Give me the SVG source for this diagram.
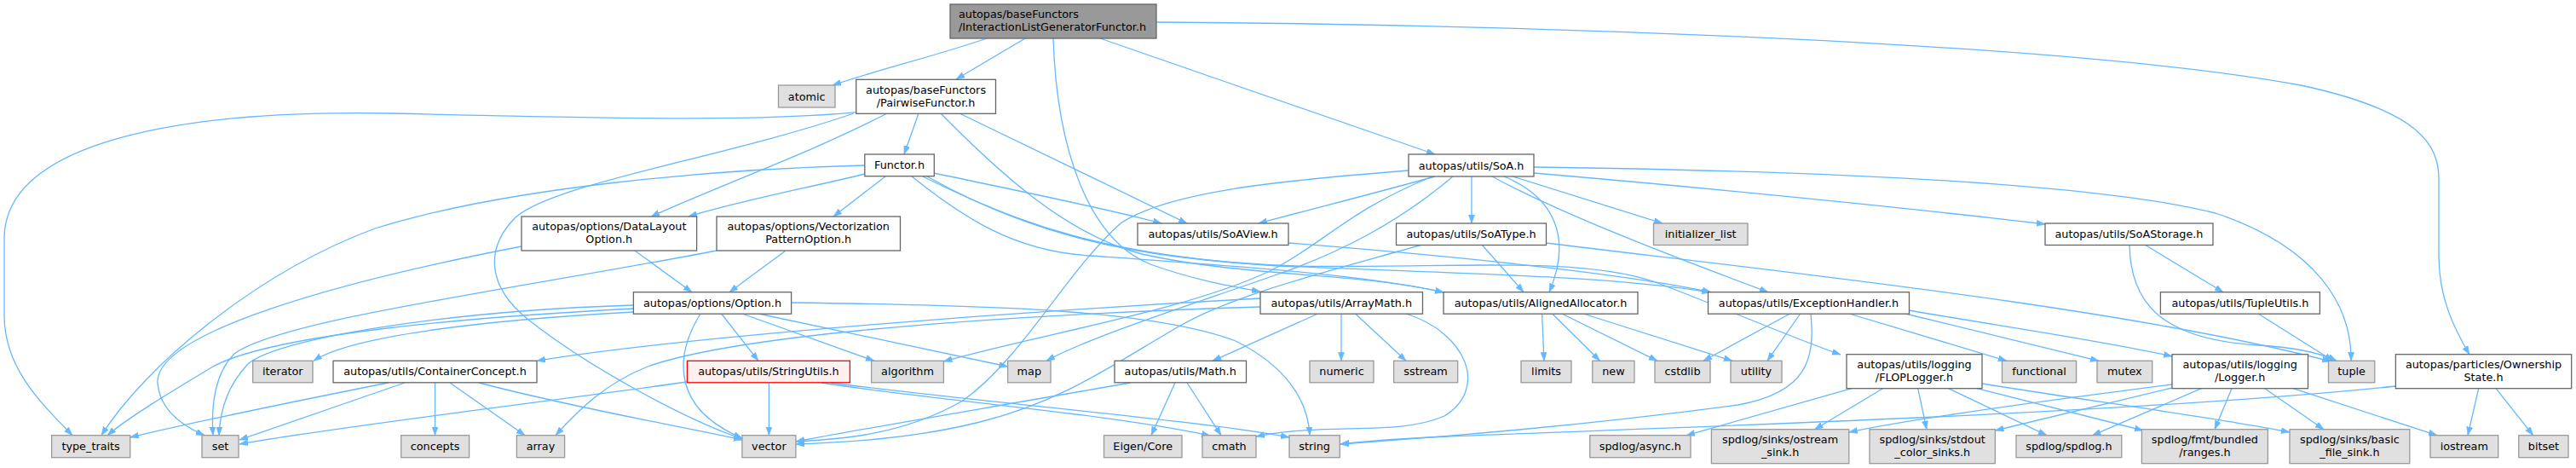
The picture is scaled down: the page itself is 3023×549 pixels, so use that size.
<svg xmlns="http://www.w3.org/2000/svg" width="3023" height="549" viewBox="0 0 3023 549">
<style>
rect{stroke-width:1.3}
.w{fill:#ffffff;stroke:#666666}
.g{fill:#e0e0e0;stroke:#999999}
.r{fill:#999999;stroke:#666666}
.t{fill:#fff0f0;stroke:#ff0000}
text{font-family:"DejaVu Sans","Liberation Sans",sans-serif;font-size:12.8px;fill:#000000;text-anchor:middle}
text.l{text-anchor:start}
#edges path{fill:none;stroke:#63b8ff;stroke-width:1.3;marker-end:url(#ah)}
</style>
<defs>
<marker id="ah" markerUnits="userSpaceOnUse" markerWidth="11" markerHeight="8" refX="10" refY="3.6" orient="auto">
<path d="M0,0 L10,3.6 L0,7.2 z" fill="#63b8ff" stroke="#63b8ff" stroke-width="0.5"/>
</marker>
</defs>
<rect x="0" y="0" width="3023" height="549" fill="#ffffff"/>
<g id="edges">
<path d="M1158,45 C1100,65 1030,82 977,100"/>
<path d="M1203,45 L1122,93"/>
<path d="M1236,45 C1240,170 1275,280 1350,310 C1400,328 1440,335 1479,342"/>
<path d="M1291,45 L1684,181"/>
<path d="M1357,26 C1700,28 2400,45 2700,100 C2840,130 2862,170 2862,210 L2862,300 C2862,350 2880,385 2898,416"/>
<path d="M1004.7,131.7 C900,142 750,140 460,133 C200,128 5,170 5,280 L5,370 C5,430 45,470 85,510.7"/>
<path d="M1002,133 C850,185 650,215 605,255 C570,290 570,335 620,375 C690,430 800,490 871,515"/>
<path d="M1041,133 C950,180 850,215 764,254"/>
<path d="M1078,133 L1061,181"/>
<path d="M1104,133 C1170,200 1250,275 1340,298 C1460,325 1600,320 1694,343"/>
<path d="M1126,133 L1393,262"/>
<path d="M1015,194 C850,198 600,218 440,268 C300,320 170,430 119,510.7"/>
<path d="M1015,204 C950,220 870,235 808,254"/>
<path d="M1039,207 L978,254"/>
<path d="M1096,203 C1200,225 1300,245 1363,262"/>
<path d="M1070,207 C1130,255 1190,295 1280,300 C1450,312 1600,322 1694,343"/>
<path d="M1083,207 C1200,265 1300,300 1500,312 C1750,322 1900,325 2007,343"/>
<path d="M1088,207 C1200,270 1320,305 1520,312 C1700,315 1850,300 1940,330 C2020,360 2100,395 2160,416"/>
<path d="M745,294 L812,342.7"/>
<path d="M612,289 C400,330 180,390 185,450 C188,482 215,500 240,510.7"/>
<path d="M922,294 L856,342.7"/>
<path d="M841,294 C600,340 330,375 275,415 C250,440 248,480 250,510.7"/>
<path d="M846.6,368 L890,423.3"/>
<path d="M822,368 C790,420 790,480 871,514"/>
<path d="M871,368 L1026,423.3"/>
<path d="M890,368 L1182.6,430"/>
<path d="M928.6,355 C1150,358 1350,362 1450,400 C1510,430 1535,470 1537,510.7"/>
<path d="M743.4,362 C550,372 320,392 250,430 C200,460 150,490 126,510.7"/>
<path d="M743.4,358 C520,365 320,398 290,428 C265,455 258,485 257,510.7"/>
<path d="M743.4,366 C560,376 410,395 368,423.3"/>
<path d="M455.6,449 C350,470 250,490 152.7,513"/>
<path d="M475,449 L281,516"/>
<path d="M510.5,449 L510.5,510.7"/>
<path d="M528,449 L616,510.7"/>
<path d="M562,449 C680,480 800,500 871,516"/>
<path d="M806.4,448 C650,470 400,500 281,521"/>
<path d="M902.4,449 L902.4,510.7"/>
<path d="M964,449 C1100,470 1300,485 1420,511"/>
<path d="M975,449 C1150,472 1400,492 1513,513"/>
<path d="M1684,207 C1620,225 1540,245 1477,262"/>
<path d="M1653,200 C1500,212 1370,225 1315,262 C1250,320 1200,420 1130,470 C1060,510 990,515 934,518"/>
<path d="M1681,207 C1580,248 1555,285 1490,318 C1390,365 1220,392 1107.4,424"/>
<path d="M1705,207 C1640,262 1570,298 1490,325 C1390,360 1280,395 1228,423.3"/>
<path d="M1727,207 L1727,262"/>
<path d="M1751,207 C1830,250 1960,300 2075,342.7"/>
<path d="M1765,207 C1825,232 1845,280 1818,342.7"/>
<path d="M1775,207 L1951,262"/>
<path d="M1800,196 C2100,200 2450,212 2600,250 C2720,290 2760,360 2759,423.3"/>
<path d="M1800,203 C2000,220 2250,245 2400,263"/>
<path d="M1739,287 L1788,342.7"/>
<path d="M1669,287 C1560,318 1450,345 1385,382 C1310,425 1250,470 1150,495 C1070,515 990,519 934,521"/>
<path d="M1814,285 C2100,320 2500,362 2735,424"/>
<path d="M1512,285 C1700,300 1900,320 2008,342.7"/>
<path d="M2517,287 L2609,342.7"/>
<path d="M2499,287 C2500,350 2530,398 2650,405 C2700,408 2725,415 2742,423.3"/>
<path d="M2650,368 L2738,423.3"/>
<path d="M1574,368 L1574,423.3"/>
<path d="M1590.5,368 L1650,423.3"/>
<path d="M1546.7,368 L1423,423.3"/>
<path d="M1650,368 C1720,390 1748,455 1695,488 C1640,512 1560,495 1474,512"/>
<path d="M1479,350 C1200,365 800,395 630,423.3"/>
<path d="M1479,360 C1100,372 850,398 760,430 C710,450 680,480 652,510.7"/>
<path d="M1809.6,368 L1812,423.3"/>
<path d="M1821.7,368 L1877.5,423.3"/>
<path d="M1833,368 L1945,423.3"/>
<path d="M1858,368 L2033,423.3"/>
<path d="M2100.5,368 L1999,423.3"/>
<path d="M2112.6,368 L2074,423.3"/>
<path d="M2125,368 C2130,420 2122,460 2040,475 C1850,500 1700,512 1573,521"/>
<path d="M2170,368 L2355,423.3"/>
<path d="M2236,368 L2463,423.3"/>
<path d="M2240,364 C2350,383 2470,400 2549,418"/>
<path d="M1379,449 L1351,510.7"/>
<path d="M1393,449 L1433,510.7"/>
<path d="M1326.5,449 C1150,480 1000,505 934,518"/>
<path d="M2173,455.7 L1979,510.7"/>
<path d="M2209.5,455.7 L2129.5,503.7"/>
<path d="M2250.7,455.7 L2261,503.7"/>
<path d="M2286.6,455.7 L2402,510.7"/>
<path d="M2320,455.7 L2515,505"/>
<path d="M2326,450 C2450,470 2600,490 2687,507"/>
<path d="M2549,451 C2400,470 2250,490 2169.8,507"/>
<path d="M2549,455 L2341.4,505"/>
<path d="M2583.5,455.7 L2455.5,510.7"/>
<path d="M2619,455.7 L2599,503.7"/>
<path d="M2657.8,455.7 L2727,503.7"/>
<path d="M2691,455.7 L2860,510.7"/>
<path d="M2908.7,455.7 L2896,510.7"/>
<path d="M2929,455.7 L2972.7,510.7"/>
<path d="M2811.4,453 C2500,485 2000,500 1700,512 C1630,515 1600,518 1573,521"/>
</g>
<g id="n_root"><rect class="r" x="1115" y="5" width="242" height="40"/><text class="l" x="1125" y="21.2">autopas/baseFunctors</text><text class="l" x="1125" y="36.2">/InteractionListGeneratorFunctor.h</text></g>
<g id="n_atomic"><rect class="g" x="913.5" y="100" width="66.5" height="26"/><text x="946.7" y="117.5">atomic</text></g>
<g id="n_pairwise"><rect class="w" x="1004.7" y="93.3" width="163.8" height="40"/><text x="1086.6" y="109.5">autopas/baseFunctors</text><text x="1086.6" y="124.5">/PairwiseFunctor.h</text></g>
<g id="n_functor"><rect class="w" x="1014.8" y="181" width="81.5" height="25.7"/><text x="1055.5" y="198.3">Functor.h</text></g>
<g id="n_soa"><rect class="w" x="1653" y="181" width="147" height="26"/><text x="1726.5" y="198.5">autopas/utils/SoA.h</text></g>
<g id="n_datalayout"><rect class="w" x="612" y="254" width="205.6" height="40"/><text x="714.8" y="270.2">autopas/options/DataLayout</text><text x="714.8" y="285.2">Option.h</text></g>
<g id="n_vecpattern"><rect class="w" x="841" y="254" width="215.5" height="40"/><text x="948.7" y="270.2">autopas/options/Vectorization</text><text x="948.7" y="285.2">PatternOption.h</text></g>
<g id="n_soaview"><rect class="w" x="1335" y="262" width="177" height="25.5"/><text x="1423.5" y="279">autopas/utils/SoAView.h</text></g>
<g id="n_soatype"><rect class="w" x="1638.5" y="262" width="176" height="25.5"/><text x="1726.5" y="279">autopas/utils/SoAType.h</text></g>
<g id="n_initlist"><rect class="g" x="1940.5" y="262" width="110.5" height="25.5"/><text x="1995.7" y="279">initializer_list</text></g>
<g id="n_soastorage"><rect class="w" x="2400" y="262" width="197" height="25.5"/><text x="2498.5" y="279">autopas/utils/SoAStorage.h</text></g>
<g id="n_option"><rect class="w" x="743.4" y="342.7" width="185.2" height="25.5"/><text x="836" y="359.7">autopas/options/Option.h</text></g>
<g id="n_arraymath"><rect class="w" x="1479" y="342.7" width="190.5" height="25.5"/><text x="1574.2" y="359.7">autopas/utils/ArrayMath.h</text></g>
<g id="n_aligned"><rect class="w" x="1694" y="342.7" width="228" height="25.5"/><text x="1808" y="359.7">autopas/utils/AlignedAllocator.h</text></g>
<g id="n_exception"><rect class="w" x="2004.5" y="342.7" width="236" height="25.5"/><text x="2122.5" y="359.7">autopas/utils/ExceptionHandler.h</text></g>
<g id="n_tupleutils"><rect class="w" x="2535.4" y="342.7" width="187" height="25.5"/><text x="2628.9" y="359.7">autopas/utils/TupleUtils.h</text></g>
<g id="n_iterator"><rect class="g" x="296.7" y="423.3" width="70.3" height="25.5"/><text x="331.8" y="440.3">iterator</text></g>
<g id="n_container"><rect class="w" x="391" y="423.3" width="239" height="25.5"/><text x="510.5" y="440.3">autopas/utils/ContainerConcept.h</text></g>
<g id="n_stringutils"><rect class="t" x="806.4" y="423.3" width="191" height="25.5"/><text x="901.9" y="440.3">autopas/utils/StringUtils.h</text></g>
<g id="n_algorithm"><rect class="g" x="1022.6" y="423.3" width="84.8" height="25.5"/><text x="1065" y="440.3">algorithm</text></g>
<g id="n_map"><rect class="g" x="1182.6" y="423.3" width="50.4" height="25.5"/><text x="1207.8" y="440.3">map</text></g>
<g id="n_math"><rect class="w" x="1308" y="423.3" width="154.5" height="25.5"/><text x="1385.2" y="440.3">autopas/utils/Math.h</text></g>
<g id="n_numeric"><rect class="g" x="1537" y="423.3" width="75" height="25.5"/><text x="1574.5" y="440.3">numeric</text></g>
<g id="n_sstream"><rect class="g" x="1635.6" y="423.3" width="75.1" height="25.5"/><text x="1673.1" y="440.3">sstream</text></g>
<g id="n_limits"><rect class="g" x="1785" y="423.3" width="59" height="25.5"/><text x="1814.5" y="440.3">limits</text></g>
<g id="n_new"><rect class="g" x="1868.8" y="423.3" width="49.2" height="25.5"/><text x="1893.4" y="440.3">new</text></g>
<g id="n_cstdlib"><rect class="g" x="1942" y="423.3" width="65" height="25.5"/><text x="1974.5" y="440.3">cstdlib</text></g>
<g id="n_utility"><rect class="g" x="2031" y="423.3" width="60" height="25.5"/><text x="2061" y="440.3">utility</text></g>
<g id="n_floplogger"><rect class="w" x="2167" y="415.7" width="159" height="40"/><text x="2246.5" y="431.9">autopas/utils/logging</text><text x="2246.5" y="446.9">/FLOPLogger.h</text></g>
<g id="n_functional"><rect class="g" x="2349.5" y="423.3" width="87.1" height="25.5"/><text x="2393" y="440.3">functional</text></g>
<g id="n_mutex"><rect class="g" x="2461" y="423.3" width="64.7" height="25.5"/><text x="2493.3" y="440.3">mutex</text></g>
<g id="n_logger"><rect class="w" x="2549" y="415.7" width="159.5" height="40"/><text x="2628.7" y="431.9">autopas/utils/logging</text><text x="2628.7" y="446.9">/Logger.h</text></g>
<g id="n_tuple"><rect class="g" x="2732.5" y="423.3" width="54.3" height="25.5"/><text x="2759.6" y="440.3">tuple</text></g>
<g id="n_ownership"><rect class="w" x="2811.4" y="415.7" width="206.3" height="40"/><text x="2914.5" y="431.9">autopas/particles/Ownership</text><text x="2914.5" y="446.9">State.h</text></g>
<g id="n_type_traits"><rect class="g" x="60.6" y="510.7" width="92.1" height="26"/><text x="106.6" y="528.2">type_traits</text></g>
<g id="n_set"><rect class="g" x="237" y="510.7" width="43" height="26"/><text x="258.5" y="528.2">set</text></g>
<g id="n_concepts"><rect class="g" x="470.7" y="510.7" width="79.9" height="26"/><text x="510.6" y="528.2">concepts</text></g>
<g id="n_array"><rect class="g" x="606.4" y="510.7" width="56.2" height="26"/><text x="634.5" y="528.2">array</text></g>
<g id="n_vector"><rect class="g" x="870.9" y="510.7" width="63" height="26"/><text x="902.4" y="528.2">vector</text></g>
<g id="n_eigen"><rect class="g" x="1295.5" y="510.7" width="91.5" height="26"/><text x="1341.2" y="528.2">Eigen/Core</text></g>
<g id="n_cmath"><rect class="g" x="1411" y="510.7" width="63" height="26"/><text x="1442.5" y="528.2">cmath</text></g>
<g id="n_string"><rect class="g" x="1513" y="510.7" width="59.3" height="26"/><text x="1542.6" y="528.2">string</text></g>
<g id="n_async"><rect class="g" x="1865.8" y="510.7" width="118.2" height="26"/><text x="1924.9" y="528.2">spdlog/async.h</text></g>
<g id="n_ostream"><rect class="g" x="2008.4" y="503.7" width="161.4" height="40"/><text x="2089.1" y="519.9">spdlog/sinks/ostream</text><text x="2089.1" y="534.9">_sink.h</text></g>
<g id="n_stdout"><rect class="g" x="2194" y="503.7" width="147.4" height="40"/><text x="2267.7" y="519.9">spdlog/sinks/stdout</text><text x="2267.7" y="534.9">_color_sinks.h</text></g>
<g id="n_spdlog"><rect class="g" x="2366" y="510.7" width="123.8" height="26"/><text x="2427.9" y="528.2">spdlog/spdlog.h</text></g>
<g id="n_ranges"><rect class="g" x="2513.4" y="503.7" width="148" height="40"/><text x="2587.4" y="519.9">spdlog/fmt/bundled</text><text x="2587.4" y="534.9">/ranges.h</text></g>
<g id="n_basicfile"><rect class="g" x="2687" y="503.7" width="140.8" height="40"/><text x="2757.4" y="519.9">spdlog/sinks/basic</text><text x="2757.4" y="534.9">_file_sink.h</text></g>
<g id="n_iostream"><rect class="g" x="2852" y="510.7" width="79.7" height="26"/><text x="2891.8" y="528.2">iostream</text></g>
<g id="n_bitset"><rect class="g" x="2955.8" y="510.7" width="58.2" height="26"/><text x="2984.9" y="528.2">bitset</text></g>
</svg>
